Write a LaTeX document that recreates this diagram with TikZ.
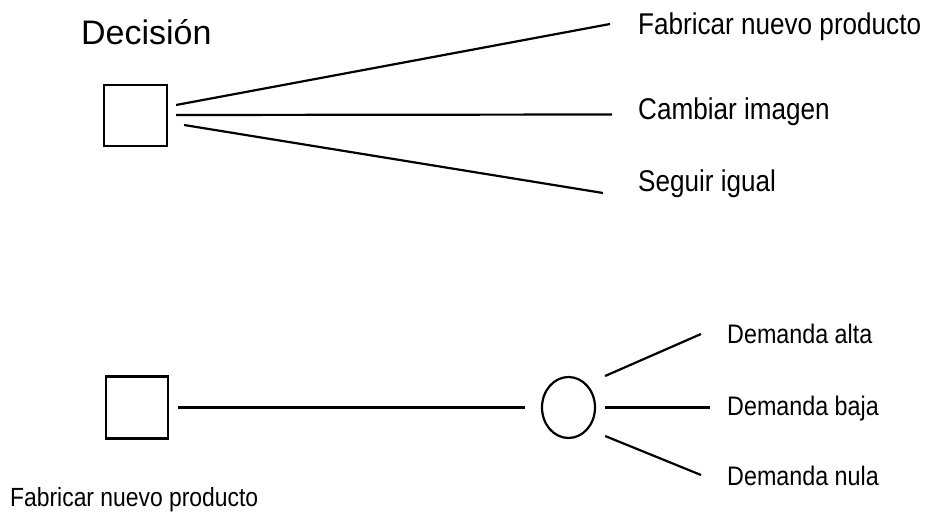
\documentclass[tikz,border=0pt]{standalone}
\usepackage{fontspec}
\setmainfont{Liberation Sans}
\newfontfamily\narrowsans{Liberation Sans}[FakeStretch=0.87]
\usepackage{tikz}
\usetikzlibrary{calc,positioning,shapes.geometric}

\begin{document}
\begin{tikzpicture}[
  x=1pt, y=-1pt,            % one unit per pixel, y running downwards
  decision/.style={rectangle,draw,line width=2.2pt,minimum width=63pt,minimum height=61pt,inner sep=0pt},
  chance/.style={ellipse,draw,line width=2.2pt,minimum width=53pt,minimum height=61pt,inner sep=0pt},
  branch/.style={line width=2.2pt},
  title/.style={anchor=base west,inner sep=0pt,font=\fontsize{34}{38}\selectfont},
  option/.style={anchor=base west,inner sep=0pt,font=\narrowsans\fontsize{30}{34}\selectfont},
  outcome/.style={anchor=base west,inner sep=0pt,font=\narrowsans\fontsize{26.8}{30}\selectfont}
]
\useasboundingbox (0,0) rectangle (926,513);

% --- upper tree: one decision, three options
\node[title] (tit) at (81,45) {Decisión};
\node[decision] (dec1) at (135.5,115.5) {};
\node[option] (op1) at (638,35)  {Fabricar nuevo producto};
\node[option] (op2) at (638,120) {Cambiar imagen};
\node[option] (op3) at (638,192) {Seguir igual};

\draw[branch] ($(dec1.east)+(8,-10.5)$) -- ($(op1.base west)+(-28,-11)$);
\draw[branch] ($(dec1.east)+(8,-0.5)$)  -- ($(op2.base west)+(-26,-5.5)$);
\draw[branch] ($(dec1.east)+(16,9.5)$)  -- ($(op3.base west)+(-35,1)$);

% --- lower tree: decision followed by a chance node
\node[decision,minimum width=62pt,minimum height=62pt] (dec2) at (137,407.5) {};
\node[outcome,font=\narrowsans\fontsize{26.3}{30}\selectfont] (lbl) at (10,506) {Fabricar nuevo producto};
\node[chance] (ch) at (568.5,407.5) {};
\node[outcome] (dem1) at (727,343) {Demanda alta};
\node[outcome] (dem2) at (727,415) {Demanda baja};
\node[outcome] (dem3) at (727,485) {Demanda nula};

\draw[branch] ($(dec2.east)+(9,0)$) -- ($(ch.west)+(-16,0)$);
\draw[branch] ($(ch.east)+(9,-31.5)$) -- ($(dem1.base west)+(-26,-9)$);
\draw[branch] ($(ch.east)+(9,0)$)     -- ($(dem2.base west)+(-17,-7.5)$);
\draw[branch] ($(ch.east)+(9,28.5)$)  -- ($(dem3.base west)+(-26,-10)$);

\end{tikzpicture}
\end{document}
